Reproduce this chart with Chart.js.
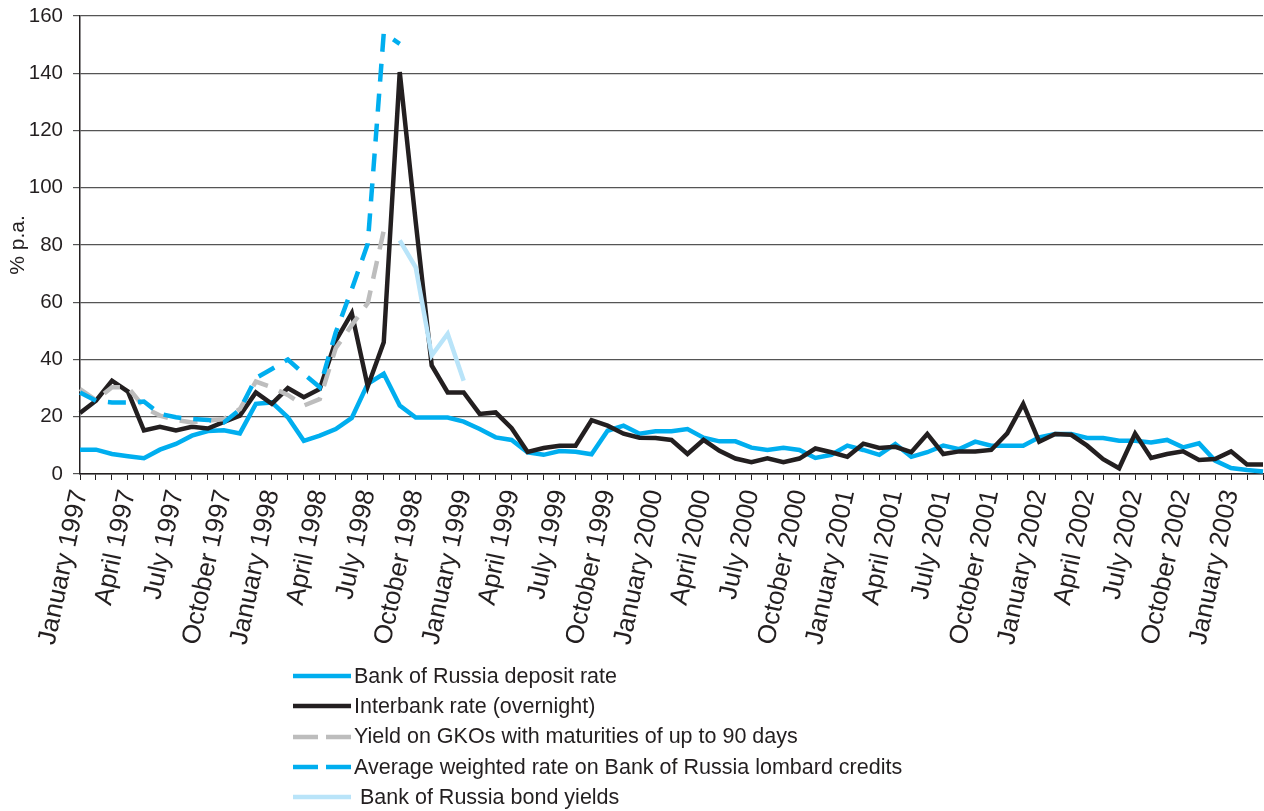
<!DOCTYPE html>
<html>
<head>
<meta charset="utf-8">
<script src="https://cdn.jsdelivr.net/npm/chart.js@4.4.1/dist/chart.umd.min.js"></script>
<style>
    html, body { margin: 0; padding: 0; background: #fff; }
    #wrap { position: relative; width: 1264px; height: 811px; overflow: hidden; }
    #line-chart { position: absolute; left: 0; top: 0; }
    #legend {
        position: absolute;
        left: 293px;
        top: 661px;
        font-family: "Liberation Sans", Arial, sans-serif;
        font-size: 21.5px;
        color: #231f20;
    }
    #legend .item { display: flex; align-items: center; height: 30.3px; white-space: pre; }
    #legend svg { margin-right: 3px; }
</style>
</head>
<body>
<div id="wrap">
    <canvas id="line-chart" width="1264" height="665"></canvas>
    <div id="legend"></div>
</div>
<script>
// month names used to build the category axis (Jan 1997 .. Mar 2003)
const monthNames = ['January', 'February', 'March', 'April', 'May', 'June',
    'July', 'August', 'September', 'October', 'November', 'December'];
const firstYear = 1997;
const monthCount = 75;

const categories = [];
for (let i = 0; i < monthCount; i++) {
    categories.push(monthNames[i % 12] + ' ' + (firstYear + Math.floor(i / 12)));
}

const yTicks = [0, 20, 40, 60, 80, 100, 120, 140, 160];

const depositRate = [
    8.5, 8.5, 7, 6.2, 5.5, 8.5, 10.5, 13.4, 15, 15.3,
    14.2, 24.5, 25, 19.8, 11.6, 13.4, 15.7, 19.6, 31.5, 35,
    23.9, 19.7, 19.7, 19.7, 18.3, 15.7, 12.8, 11.9, 7.6, 6.7,
    8, 7.8, 6.9, 15.1, 16.9, 14.1, 14.9, 14.9, 15.7, 12.7,
    11.4, 11.4, 9.2, 8.4, 9.2, 8.4, 5.6, 6.7, 9.9, 8.4,
    6.7, 10.5, 6, 7.6, 9.9, 8.7, 11.3, 9.9, 9.9, 9.9,
    12.8, 14, 14, 12.6, 12.6, 11.6, 11.6, 11, 11.9, 9.3,
    10.7, 4.7, 2.1, 1.4, 0.9
];

const interbankRate = [
    21.3, 25.6, 32.6, 28.8, 15.2, 16.5, 15.2, 16.5, 15.9, 18.2,
    20.4, 28.5, 24.5, 30, 26.8, 29.7, 46.6, 56.2, 30.6, 46,
    140.4, 88, 37.9, 28.5, 28.5, 21, 21.5, 16, 7.7, 9.1,
    9.9, 9.9, 18.8, 16.9, 14.1, 12.7, 12.6, 11.9, 7, 11.9,
    8.1, 5.4, 4.1, 5.5, 4.1, 5.4, 8.9, 7.6, 6, 10.6,
    9.1, 9.5, 7.6, 14, 7, 7.9, 7.9, 8.4, 14.2, 24.5,
    11.3, 14, 13.7, 9.9, 5.2, 2, 14.1, 5.6, 7, 7.9,
    4.9, 5.2, 7.9, 3.3, 3.3
];

// GKO yields stop in August 1998
const gkoYield = [
    29.7, 25.8, 30.3, 30.3, 23.3, 20.4, 18.9, 18, 18.6, 19.2,
    22.7, 32.3, 30.3, 27.6, 23.9, 26.2, 44, 52, 59.7, 85
];

// lombard credits stop in September 1998
const lombardRate = [
    28.5, 25.6, 25, 25, 25.3, 21, 19.8, 19.2, 18.9, 18,
    22.5, 33.5, 36.7, 40, 35, 30.3, 49.5, 64.5, 80.4, 154,
    150.3
];

// bond yields only September 1998 .. January 1999
const bondYield = [
    null, null, null, null, null, null, null, null, null, null,
    null, null, null, null, null, null, null, null, null, null,
    81.6, 72.2, 41.4, 49, 32.6
];

const seriesLabels = [
    'Bank of Russia deposit rate',
    'Interbank rate (overnight)',
    'Yield on GKOs with maturities of up to 90 days',
    'Average weighted rate on Bank of Russia lombard credits',
    ' Bank of Russia bond yields'
];

const ink = '#231f20';
const fontFamily = '"Liberation Sans", Arial, sans-serif';

init();

function init() {
    const datasets = [
        makeSeries(seriesLabels[0], depositRate, '#00aeef', [], 5),
        makeSeries(seriesLabels[1], interbankRate, ink, [], 4),
        makeSeries(seriesLabels[2], gkoYield, '#bdbdbd', [18, 12], 3),
        makeSeries(seriesLabels[3], lombardRate, '#00aeef', [18, 12], 2),
        makeSeries(seriesLabels[4], bondYield, '#b9e4f9', [], 1),
    ];

    window.chart = new Chart(document.getElementById('line-chart'), {
        type: 'line',
        data: {
            labels: categories,
            datasets: datasets,
        },
        options: {
            responsive: false,
            animation: false,
            devicePixelRatio: 1,
            layout: {
                padding: { top: 16, right: 1, left: 0, bottom: 0 }
            },
            plugins: {
                legend: { display: false },
                tooltip: { enabled: false },
            },
            scales: {
                x: {
                    type: 'category',
                    offset: false,
                    grid: {
                        drawOnChartArea: false,
                        drawTicks: true,
                        tickLength: 6,
                        color: ink,
                        lineWidth: 1,
                    },
                    border: { color: ink, width: 1.5 },
                    ticks: {
                        autoSkip: false,
                        minRotation: 78,
                        maxRotation: 78,
                        padding: 7,
                        color: ink,
                        font: { family: fontFamily, size: 26 },
                        callback: (value, index) => index % 3 === 0 ? categories[index] : '',
                    },
                    afterFit: (scale) => {
                        scale.height = 665 - 474;
                        scale.paddingLeft = 0;
                        scale.paddingRight = 0;
                    },
                },
                y: {
                    min: 0,
                    max: 160,
                    afterBuildTicks: (scale) => {
                        scale.ticks = yTicks.map(v => ({ value: v }));
                    },
                    grid: {
                        color: '#555555',
                        lineWidth: 1.2,
                        tickLength: 7,
                    },
                    border: { color: ink, width: 1.5 },
                    ticks: {
                        padding: 10,
                        color: ink,
                        font: { family: fontFamily, size: 20.5 },
                    },
                    title: {
                        display: true,
                        text: '% p.a.',
                        color: ink,
                        font: { family: fontFamily, size: 21 },
                        padding: { top: 6, bottom: 0 },
                    },
                    afterFit: (scale) => {
                        scale.width = 80;
                        scale.paddingTop = 0;
                        scale.paddingBottom = 0;
                    },
                },
            },
        },
    });

    renderLegend(datasets);
}

function makeSeries(label, values, color, dash, order) {
    return {
        label: label,
        data: values,
        borderColor: color,
        backgroundColor: color,
        borderWidth: 4.5,
        borderDash: dash,
        borderCapStyle: 'butt',
        borderJoinStyle: 'miter',
        pointRadius: 0,
        tension: 0,
        fill: false,
        spanGaps: false,
        order: order,
    };
}

function renderLegend(datasets) {
    const parentElement = document.querySelector('#legend');

    datasets.forEach((ds) => {
        const item = document.createElement('div');
        item.classList.add('item');

        const dash = ds.borderDash.length ? 'stroke-dasharray="25 8"' : '';
        item.innerHTML = `<svg width="58" height="8"><line x1="0" y1="4" x2="58" y2="4" stroke="${ds.borderColor}" stroke-width="4.5" ${dash}/></svg>`;

        const text = document.createElement('span');
        text.textContent = ds.label;
        item.append(text);

        parentElement.append(item);
    });
}
</script>
</body>
</html>
